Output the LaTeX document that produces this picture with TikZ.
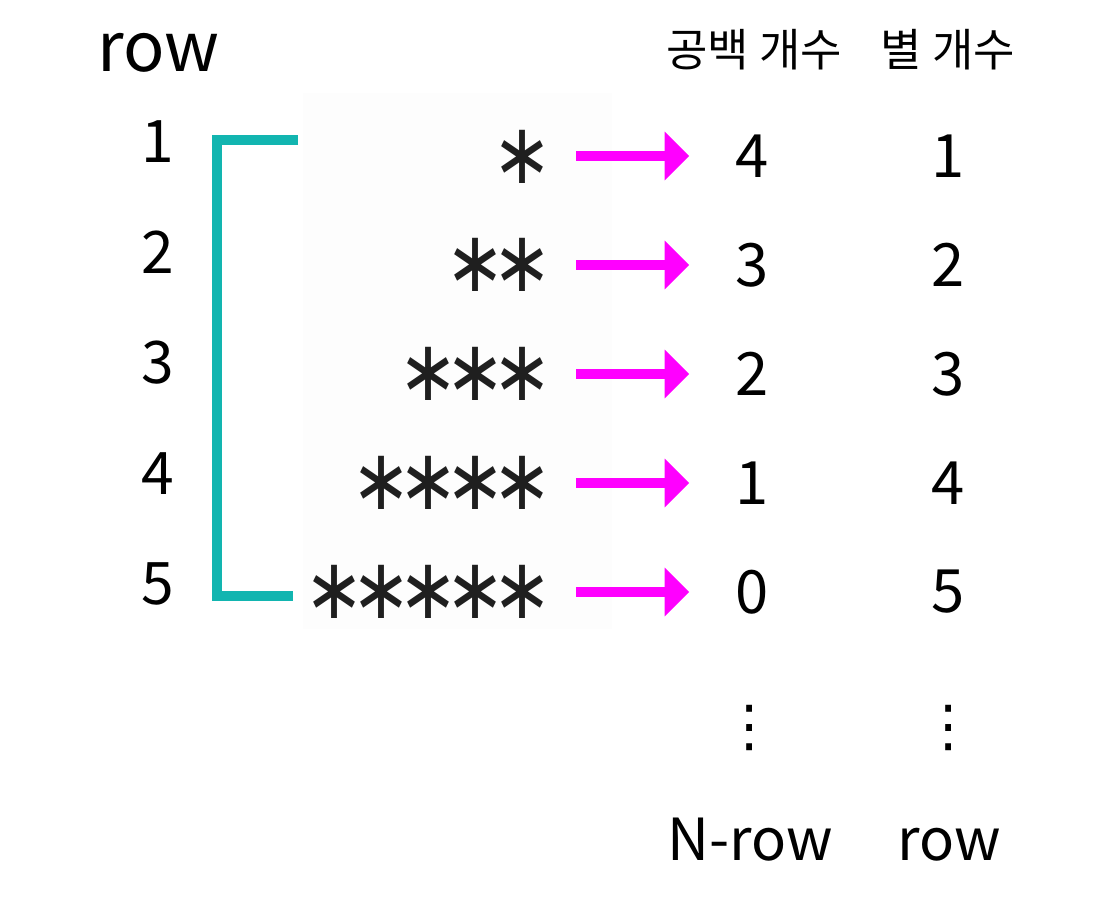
\documentclass[tikz,border=0pt]{standalone}
\usepackage{fontspec}
\usepackage{graphicx}
\setmainfont{Noto Sans CJK KR}
\newfontfamily\starfont{DejaVu Sans}
\usetikzlibrary{arrows.meta}
\definecolor{bracketteal}{HTML}{12B5B0}
\definecolor{arrowmagenta}{HTML}{FF00FF}
\newcommand{\onestar}{\makebox[0.47cm]{\scalebox{0.97}[1.15]{∗}}}
\tikzset{
  rowlabel/.style={inner sep=0pt,font=\fontsize{16.7}{20}\selectfont},
  starrow/.style={anchor=east,inner xsep=0.29cm,inner ysep=0pt,text=black!88,
    font=\starfont\fontsize{21}{21}\selectfont},
  countnum/.style={minimum width=1.24cm,inner sep=0pt,font=\fontsize{17}{20}\selectfont},
  header/.style={inner sep=0pt,font=\fontsize{12.8}{15}\selectfont},
  bigword/.style={inner sep=0pt,anchor=base},
  moredots/.style={inner sep=0pt,font=\starfont\fontsize{16}{16}\selectfont},
  pointer/.style={arrowmagenta,line width=2.6pt,-{Triangle[length=7pt,width=13.4pt]}}
}
\begin{document}
\begin{tikzpicture}
\useasboundingbox (0,0) rectangle (11,9);
% faint panel behind the stars
\fill[black!0.8](3.03,2.71)rectangle(6.12,8.07);
% row numbers
\node[bigword,font=\fontsize{19.5}{24}\selectfont](rowtitle) at (1.585,8.28){row};
\node[rowlabel](r1) at (1.58,7.58){1};
\node[rowlabel](r2) at (1.58,6.475){2};
\node[rowlabel](r3) at (1.58,5.37){3};
\node[rowlabel](r4) at (1.58,4.265){4};
\node[rowlabel](r5) at (1.58,3.16){5};
\draw[bracketteal,line width=2.8pt](2.98,7.60)--(2.17,7.60)--(2.17,3.04)--(2.93,3.04);
% stars
\node[starrow](s1) at (5.76,7.43){\onestar};
\node[starrow](s2) at (5.76,6.35){\onestar\onestar};
\node[starrow](s3) at (5.76,5.26){\onestar\onestar\onestar};
\node[starrow](s4) at (5.76,4.17){\onestar\onestar\onestar\onestar};
\node[starrow](s5) at (5.76,3.08){\onestar\onestar\onestar\onestar\onestar};
% counts
\node[header](h1) at (7.54,8.50){공백 개수};
\node[header](h2) at (9.48,8.50){별 개수};
\node[countnum](b1) at (7.52,7.44){4};
\node[countnum](b2) at (7.52,6.35){3};
\node[countnum](b3) at (7.52,5.26){2};
\node[countnum](b4) at (7.52,4.17){1};
\node[countnum](b5) at (7.52,3.08){0};
\node[countnum](c1) at (9.48,7.44){1};
\node[countnum](c2) at (9.48,6.35){2};
\node[countnum](c3) at (9.48,5.26){3};
\node[countnum](c4) at (9.48,4.17){4};
\node[countnum](c5) at (9.48,3.08){5};
\draw[pointer](s1.east|-b1)--(b1);
\draw[pointer](s2.east|-b2)--(b2);
\draw[pointer](s3.east|-b3)--(b3);
\draw[pointer](s4.east|-b4)--(b4);
\draw[pointer](s5.east|-b5)--(b5);
\node[moredots](d1) at (7.50,1.72){⋮};
\node[moredots](d2) at (9.49,1.72){⋮};
\node[bigword,font=\fontsize{16.5}{20}\selectfont](nrow) at (7.50,0.40){N-row};
\node[bigword,font=\fontsize{16.5}{20}\selectfont](srow) at (9.49,0.40){row};
\end{tikzpicture}
\end{document}
